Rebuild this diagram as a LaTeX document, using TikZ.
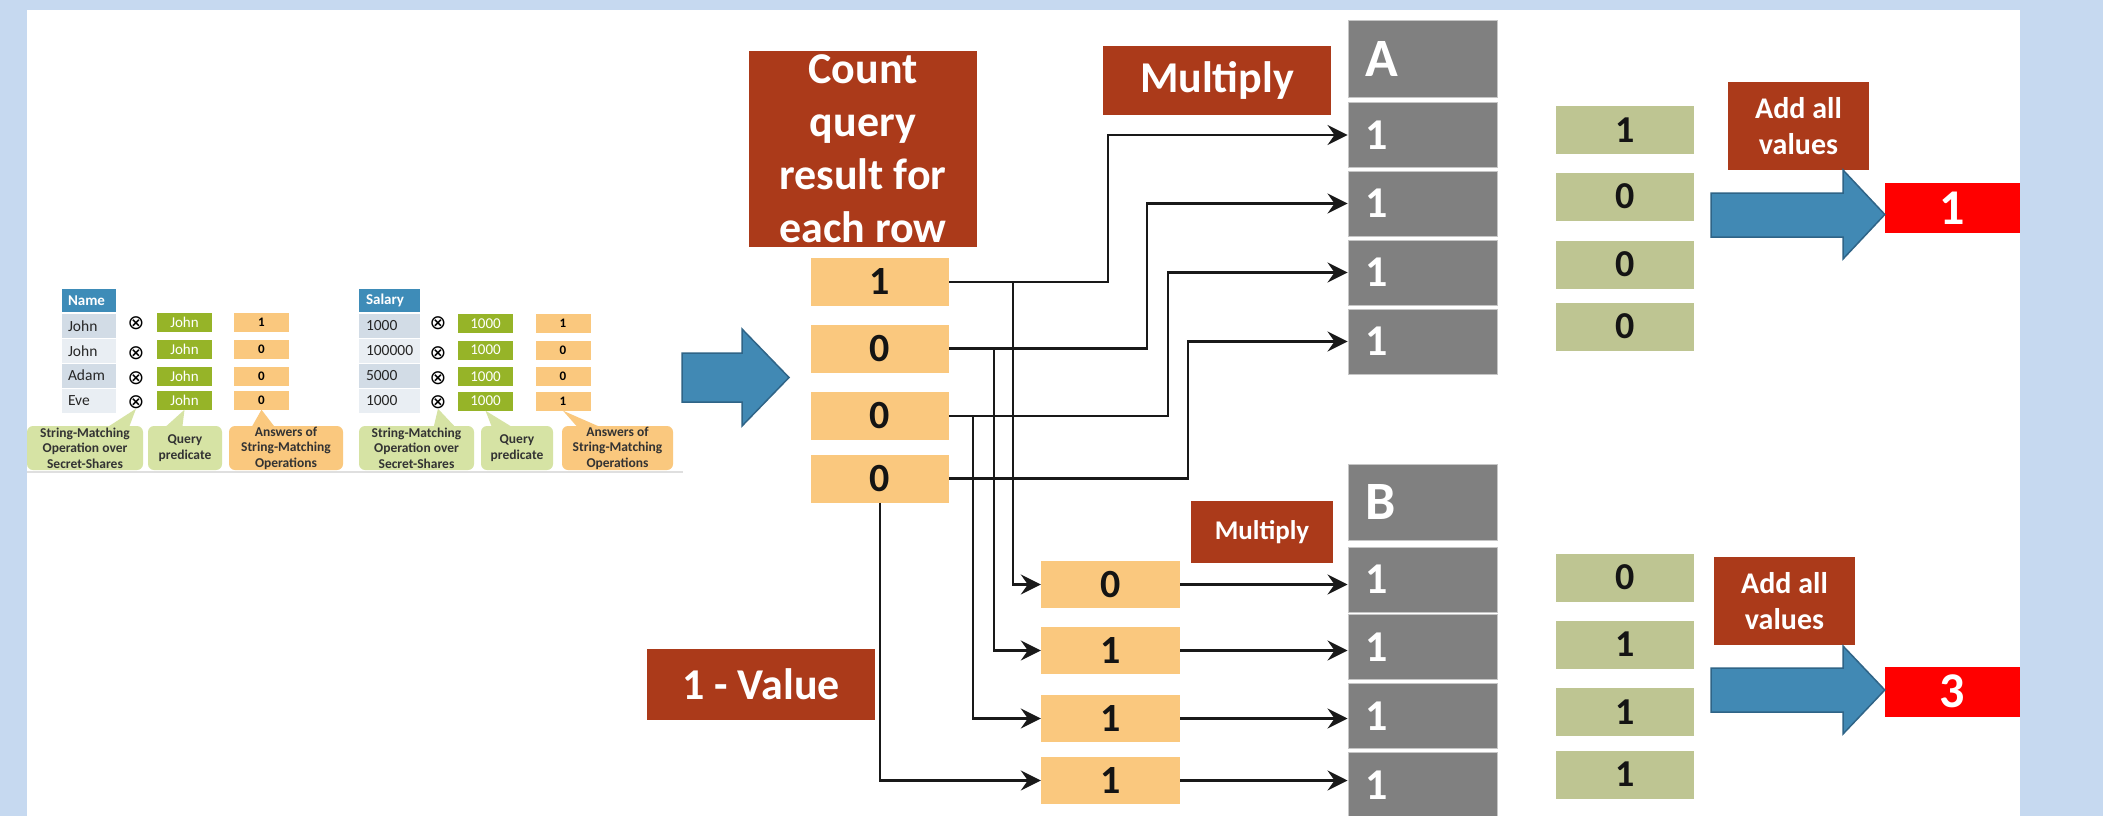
\documentclass[tikz,border=0pt]{standalone}
\usepackage{fontspec}
\setmainfont{Carlito}
\newfontfamily\symfont{DejaVu Sans}
\usetikzlibrary{arrows.meta}
\definecolor{bgblue}{RGB}{198,217,240}
\definecolor{rust}{RGB}{171,58,26}
\definecolor{lorange}{RGB}{250,200,126}
\definecolor{vgray}{RGB}{128,128,128}
\definecolor{vgreen}{RGB}{190,197,146}
\definecolor{arrblue}{RGB}{65,137,180}
\definecolor{arrblueedge}{RGB}{47,100,135}
\definecolor{hdrblue}{RGB}{62,140,184}
\definecolor{rowdark}{RGB}{210,220,230}
\definecolor{rowlight}{RGB}{233,238,243}
\definecolor{oliveg}{RGB}{150,180,40}
\definecolor{callgreen}{RGB}{214,227,164}
\newcommand{\fs}[2]{\fontsize{#1}{#2}\selectfont}
\begin{document}
\begin{tikzpicture}[x=1pt,y=-1pt,
  brownbox/.style={fill=rust, text=white, inner sep=0pt, align=center, font=\bfseries\fs{44}{53}},
  valbox/.style={fill=lorange, inner sep=0pt, minimum width=138, minimum height=48, font=\bfseries\fs{40}{48}, text=black!92},
  greenval/.style={fill=vgreen, inner sep=0pt, minimum width=138, minimum height=48, font=\bfseries\fs{38}{46}, text=black!92},
  graycell/.style={fill=vgray, draw=gray!45, line width=1, inner sep=0pt, minimum width=149, minimum height=65, text width=115, align=left, text=white, font=\bfseries\fs{44}{50}},
  redbox/.style={fill=red, inner sep=0pt, minimum width=135, minimum height=50, text=white, font=\bfseries\fs{50}{56}},
  blockarrow/.style={fill=arrblue, draw=arrblueedge, line width=1.5, line join=miter},
  conn/.style={line width=2.2, draw=black!90},
  arr/.style={conn, -{Stealth[length=20pt,width=20pt,inset=7pt]}},
  thdr/.style={fill=hdrblue, inner sep=0pt, minimum height=23, text=white, font=\bfseries\fs{15}{18}, align=left},
  trowd/.style={fill=rowdark, inner sep=0pt, minimum height=24, font=\fs{15.5}{18}, text=black!85, align=left},
  trowl/.style={trowd, fill=rowlight},
  olivebox/.style={fill=oliveg, inner sep=0pt, minimum width=55, minimum height=19, text=white, font=\fs{15}{18}},
  ansbox/.style={fill=lorange, inner sep=0pt, minimum width=55, minimum height=19, font=\bfseries\fs{13}{15}},
  otim/.style={inner sep=0pt, font=\symfont\fs{20}{22}},
  callg/.style={fill=callgreen, rounded corners=6, inner sep=0pt, align=center, font=\bfseries\fs{13.5}{15.5}, text=black!80, minimum height=44},
  callo/.style={callg, fill=lorange}
]
\useasboundingbox (0,0) rectangle (2103,816);
\clip (0,0) rectangle (2103,816);
\fill[bgblue] (0,0) rectangle (2103,816);
\fill[white] (27,10) rectangle (2020,816);

% ---------- left tables ----------
% table 1
\node[thdr, minimum width=54, text width=42] (nh) at (89,300.5) {Name};
\node[trowd, minimum width=54, text width=42] (n1) at (89,326) {John};
\node[trowl, minimum width=54, text width=42] (n2) at (89,351) {John};
\node[trowd, minimum width=54, text width=42] (n3) at (89,375.5) {Adam};
\node[trowl, minimum width=54, text width=42] (n4) at (89,401) {Eve};
\node[otim] (x1) at (136,323) {⊗};
\node[otim] (x2) at (136,353) {⊗};
\node[otim] (x3) at (136,378) {⊗};
\node[otim] (x4) at (136,402) {⊗};
\node[olivebox] (q1) at (184.5,322.5) {John};
\node[olivebox] (q2) at (184.5,349) {John};
\node[olivebox] (q3) at (184.5,376) {John};
\node[olivebox] (q4) at (184.5,400) {John};
\node[ansbox] (s1) at (261.5,322.5) {1};
\node[ansbox] (s2) at (261.5,349) {0};
\node[ansbox] (s3) at (261.5,376) {0};
\node[ansbox] (s4) at (261.5,400) {0};
% table 2
\node[thdr, minimum width=61, text width=47] (sh) at (389.5,300.5) {Salary};
\node[trowd, minimum width=61, text width=47] (m1) at (389.5,326) {1000};
\node[trowl, minimum width=61, text width=47] (m2) at (389.5,351) {100000};
\node[trowd, minimum width=61, text width=47] (m3) at (389.5,375.5) {5000};
\node[trowl, minimum width=61, text width=47] (m4) at (389.5,401) {1000};
\node[otim] (y1) at (438,323) {⊗};
\node[otim] (y2) at (438,353) {⊗};
\node[otim] (y3) at (438,378) {⊗};
\node[otim] (y4) at (438,402) {⊗};
\node[olivebox] (p1) at (485.5,323.5) {1000};
\node[olivebox] (p2) at (485.5,350) {1000};
\node[olivebox] (p3) at (485.5,376.5) {1000};
\node[olivebox] (p4) at (485.5,401) {1000};
\node[ansbox] (t1) at (563,323.5) {1};
\node[ansbox] (t2) at (563,350) {0};
\node[ansbox] (t3) at (563,376.5) {0};
\node[ansbox] (t4) at (563,401) {1};
% callouts
\fill[callgreen] (x4.south) -- (128,430) -- (103,430) -- cycle;
\fill[callgreen] (q4.south) -- (182,430) -- (162,430) -- cycle;
\fill[lorange] (s4.south) -- (277,430) -- (250,430) -- cycle;
\fill[callgreen] (y4.south) -- (458,430) -- (433,430) -- cycle;
\fill[callgreen] (p4.south) -- (517,430) -- (493,430) -- cycle;
\fill[lorange] (t4.south) -- (607,430) -- (580,430) -- cycle;
\node[callg, minimum width=116] (c1) at (85,448) {String-Matching\\Operation over\\Secret-Shares};
\node[callg, minimum width=74] (c2) at (185,448) {Query\\predicate};
\node[callo, minimum width=114] (c3) at (286,448) {Answers of\\String-Matching\\Operations};
\node[callg, minimum width=115] (d1) at (416.5,448) {String-Matching\\Operation over\\Secret-Shares};
\node[callg, minimum width=72] (d2) at (517,448) {Query\\predicate};
\node[callo, minimum width=111] (d3) at (617.5,448) {Answers of\\String-Matching\\Operations};
\draw[gray!25, line width=2.5] (27,472) -- (683,472);

% big arrow
\draw[blockarrow] (682,353) -- (742,353) -- (742,329) -- (789,377.5) -- (742,426) -- (742,402) -- (682,402) -- cycle;

% ---------- middle ----------
\node[brownbox, minimum width=228, minimum height=196] (count) at (863,149) {Count\\query\\result for\\each row};
\node[brownbox, minimum width=228, minimum height=69] (mult1) at (1217,80.5) {Multiply};
\node[brownbox, minimum width=228, minimum height=71] (onemv) at (761,684.5) {1 - Value};
\node[brownbox, minimum width=142, minimum height=62, font=\bfseries\fs{27}{32}] (mult2) at (1262,532) {Multiply};

\node[valbox] (o1) at (880,282) {1};
\node[valbox] (o2) at (880,348.5) {0};
\node[valbox] (o3) at (880,416) {0};
\node[valbox] (o4) at (880,478.5) {0};

\node[valbox, minimum width=139, minimum height=47] (l1) at (1110.5,584.5) {0};
\node[valbox, minimum width=139, minimum height=47] (l2) at (1110.5,650.5) {1};
\node[valbox, minimum width=139, minimum height=47] (l3) at (1110.5,718.5) {1};
\node[valbox, minimum width=139, minimum height=47] (l4) at (1110.5,780.5) {1};

% gray columns
\node[graycell, minimum height=76, font=\bfseries\fs{54}{60}] (ah) at (1422.5,59) {A};
\node[graycell] (a1) at (1422.5,135) {1};
\node[graycell] (a2) at (1422.5,203.5) {1};
\node[graycell] (a3) at (1422.5,272.5) {1};
\node[graycell] (a4) at (1422.5,341.5) {1};
\node[graycell, minimum height=76, font=\bfseries\fs{54}{60}] (bh) at (1422.5,502) {B};
\node[graycell] (b1) at (1422.5,579.5) {1};
\node[graycell] (b2) at (1422.5,647) {1};
\node[graycell] (b3) at (1422.5,716) {1};
\node[graycell] (b4) at (1422.5,785) {1};

% green values
\node[greenval] (g1) at (1625,130) {1};
\node[greenval] (g2) at (1625,196.5) {0};
\node[greenval] (g3) at (1625,264.5) {0};
\node[greenval] (g4) at (1625,326.5) {0};
\node[greenval] (h1) at (1625,577.5) {0};
\node[greenval] (h2) at (1625,644.5) {1};
\node[greenval] (h3) at (1625,712) {1};
\node[greenval] (h4) at (1625,774.5) {1};

% add all values + results
\node[brownbox, minimum width=141, minimum height=88, font=\bfseries\fs{30}{36}] (add1) at (1798.5,126) {Add all\\values};
\node[brownbox, minimum width=141, minimum height=88, font=\bfseries\fs{30}{36}] (add2) at (1784.5,601) {Add all\\values};
\node[redbox] (r1) at (1952.5,208) {1};
\node[redbox] (r2) at (1952.5,691.5) {3};
\draw[blockarrow] (1711,193) -- (1843,193) -- (1843,170) -- (r1.west |- 0,214.5) -- (1843,259) -- (1843,237) -- (1711,237) -- cycle;
\draw[blockarrow] (1711,668) -- (1843,668) -- (1843,646) -- (r2.west |- 0,690) -- (1843,734) -- (1843,712) -- (1711,712) -- cycle;

% ---------- connectors ----------
\draw[arr] (o1.east) -- ++(159,0) |- (a1.west);
\draw[arr] (o2.east) -- ++(198,0) |- (a2.west);
\draw[arr] (o3.east) -- ++(219,0) |- (a3.west);
\draw[arr] (o4.east) -- ++(239,0) |- (a4.west);
\draw[arr] (o1.east) -- ++(64,0) |- (l1.west);
\draw[arr] (o2.east) -- ++(45,0) |- (l2.west);
\draw[arr] (o3.east) -- ++(24,0) |- (l3.west);
\draw[arr] (o4.south) |- (l4.west);
\draw[arr] (l1.east) -- (l1.east -| b1.west);
\draw[arr] (l2.east) -- (l2.east -| b2.west);
\draw[arr] (l3.east) -- (l3.east -| b3.west);
\draw[arr] (l4.east) -- (l4.east -| b4.west);
\end{tikzpicture}
\end{document}
